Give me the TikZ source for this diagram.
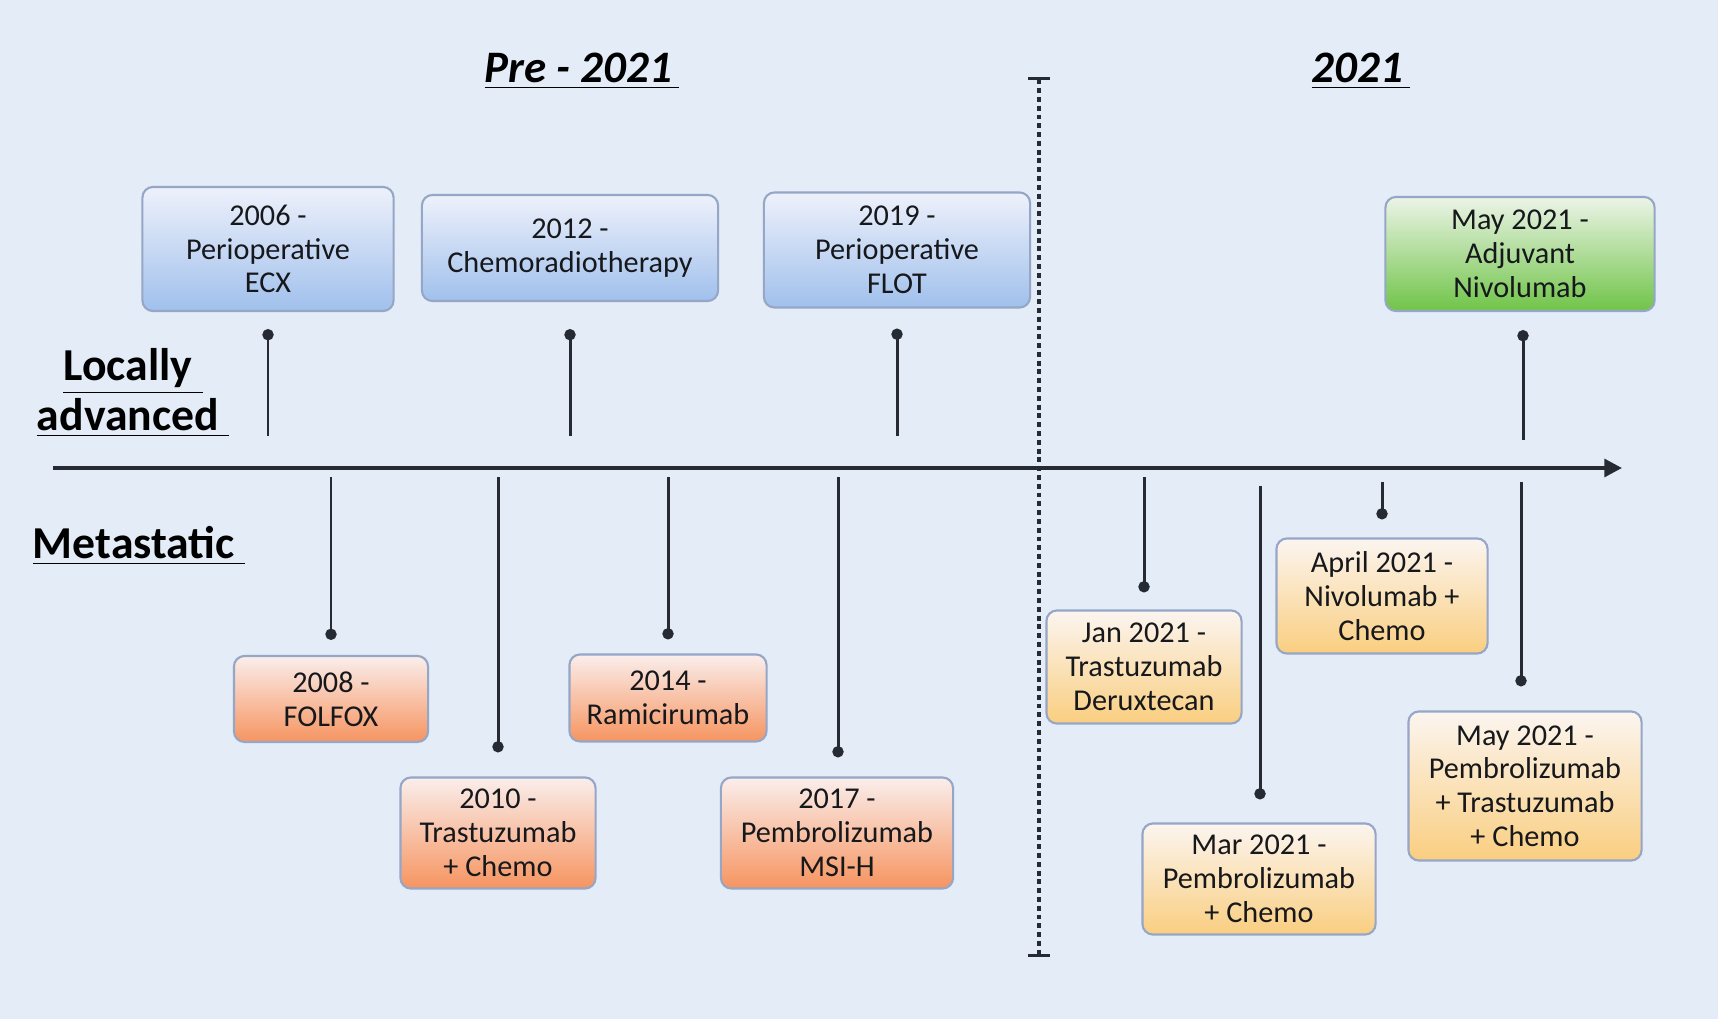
\documentclass[tikz,border=0pt]{standalone}
\usepackage{fontspec}
\setmainfont{Carlito}
\definecolor{tlbg}{RGB}{227,236,247}
\definecolor{tlink}{RGB}{38,42,50}
\definecolor{tltext}{RGB}{22,24,28}
\definecolor{tledge}{RGB}{150,166,198}
\definecolor{tlbluetop}{RGB}{238,241,251}
\definecolor{tlbluebot}{RGB}{160,192,236}
\definecolor{tlgreentop}{RGB}{236,244,232}
\definecolor{tlgreenbot}{RGB}{112,196,72}
\definecolor{tlorangetop}{RGB}{250,238,236}
\definecolor{tlorangebot}{RGB}{246,148,96}
\definecolor{tlyellowtop}{RGB}{251,245,240}
\definecolor{tlyellowbot}{RGB}{250,206,128}
\usetikzlibrary{arrows.meta,positioning,calc}

\begin{document}
\begin{tikzpicture}[
  x=0.01cm, y=-0.01cm,
  event/.style={
    rectangle, rounded corners=3pt,
    draw=tledge, line width=0.6pt,
    font=\fontsize{8.6}{9.6}\selectfont,
    align=center, inner sep=1pt,
    text=tltext
  },
  lapbox/.style={event, top color=tlbluetop, bottom color=tlbluebot},
  adjbox/.style={event, top color=tlgreentop, bottom color=tlgreenbot},
  oldbox/.style={event, top color=tlorangetop, bottom color=tlorangebot},
  newbox/.style={event, top color=tlyellowtop, bottom color=tlyellowbot},
  eratitle/.style={font=\fontsize{12.8}{14}\selectfont\bfseries\itshape, text=black},
  sidelabel/.style={font=\fontsize{13}{12.6}\selectfont\bfseries, text=black, align=center},
  stemline/.style={{Circle[length=3.2pt]}-, line width=0.85pt, draw=tlink},
  axisline/.style={-{Triangle[length=5pt,width=5pt]}, line width=1.1pt, draw=tlink},
  divider/.style={{Bar[width=6pt]}-{Bar[width=6pt]}, line width=0.9pt, draw=tlink,
    dash pattern=on 1.4pt off 1.1pt}
]
\fill[tlbg] (0,0) rectangle (1718,1019);

% headings
\node[eratitle] (pre) at (582,71) {\underline{Pre - 2021\,}};
\node[eratitle] (cur) at (1361,71) {\underline{2021\,}};
\node[sidelabel] (locadv) at (133,393) {\underline{Locally\ }\\\underline{advanced\ }};
\node[sidelabel] (meta) at (139,546) {\underline{Metastatic\ }};

% time axis and 2021 divider
\coordinate (axstart) at (53,468);
\coordinate (axend) at (1622,468);
\draw[axisline] (axstart) -- (axend);
\coordinate (divtop) at (1039,77);
\coordinate (divbot) at (1039,957);
\draw[divider] (divtop) -- (divbot);

% locally advanced
\node[lapbox, minimum width=2.51cm, minimum height=1.24cm] (s2006) at (268,249)
  {2006 -\\Perioperative\\ECX};
\node[lapbox, minimum width=2.96cm, minimum height=1.06cm] (s2012) at (570,248)
  {2012 -\\Chemoradiotherapy};
\node[lapbox, minimum width=2.66cm, minimum height=1.15cm] (s2019) at (897,250)
  {2019 -\\Perioperative\\FLOT};
\node[adjbox, minimum width=2.69cm, minimum height=1.14cm] (s2021) at (1520,254)
  {May 2021 -\\Adjuvant\\Nivolumab};

% metastatic
\node[oldbox, minimum width=1.94cm, minimum height=0.86cm] (m2008) at (331,699)
  {2008 -\\FOLFOX};
\node[oldbox, minimum width=1.95cm, minimum height=1.11cm] (m2010) at (498,833)
  {2010 -\\Trastuzumab\\+ Chemo};
\node[oldbox, minimum width=1.97cm, minimum height=0.87cm] (m2014) at (668,698)
  {2014 -\\Ramicirumab};
\node[oldbox, minimum width=2.32cm, minimum height=1.11cm] (m2017) at (837,833)
  {2017 -\\Pembrolizumab\\MSI-H};
\node[newbox, minimum width=1.95cm, minimum height=1.13cm] (mjan) at (1144,667)
  {Jan 2021 -\\Trastuzumab\\Deruxtecan};
\node[newbox, minimum width=2.33cm, minimum height=1.11cm] (mmar) at (1259,879)
  {Mar 2021 -\\Pembrolizumab\\+ Chemo};
\node[newbox, minimum width=2.11cm, minimum height=1.15cm] (mapr) at (1382,596)
  {April 2021 -\\Nivolumab +\\Chemo};
\node[newbox, minimum width=2.33cm, minimum height=1.49cm] (mmay) at (1525,786)
  {May 2021 -\\Pembrolizumab\\+ Trastuzumab\\+ Chemo};

% stems above the axis
\coordinate (a2006) at (268,436);
\coordinate (a2012) at (570,436);
\coordinate (a2019) at (897,436);
\coordinate (a2021) at (1523,440);
\draw[stemline] ($(s2006.south)+(0,17)$) -- (a2006);
\draw[stemline] ($(s2012.south)+(0,27)$) -- (a2012);
\draw[stemline] ($(s2019.south)+(0,20)$) -- (a2019);
\draw[stemline] ($(s2021.south)+(3,18)$) -- (a2021);

% stems below the axis
\coordinate (b2008) at (331,477);
\coordinate (b2010) at (498,477);
\coordinate (b2014) at (668,477);
\coordinate (b2017) at (838,477);
\coordinate (bjan) at (1144,477);
\coordinate (bmar) at (1260,486);
\coordinate (bapr) at (1382,482);
\coordinate (bmay) at (1521,482);
\draw[stemline] ($(m2008.north)+(0,-15)$) -- (b2008);
\draw[stemline] ($(m2010.north)+(0,-24)$) -- (b2010);
\draw[stemline] ($(m2014.north)+(0,-14)$) -- (b2014);
\draw[stemline] ($(m2017.north)+(1,-19)$) -- (b2017);
\draw[stemline] ($(mjan.north)+(0,-17)$) -- (bjan);
\draw[stemline] ($(mmar.north)+(1,-23)$) -- (bmar);
\draw[stemline] ($(mapr.north)+(0,-18)$) -- (bapr);
\draw[stemline] ($(mmay.north)+(-4,-24)$) -- (bmay);
\end{tikzpicture}
\end{document}
